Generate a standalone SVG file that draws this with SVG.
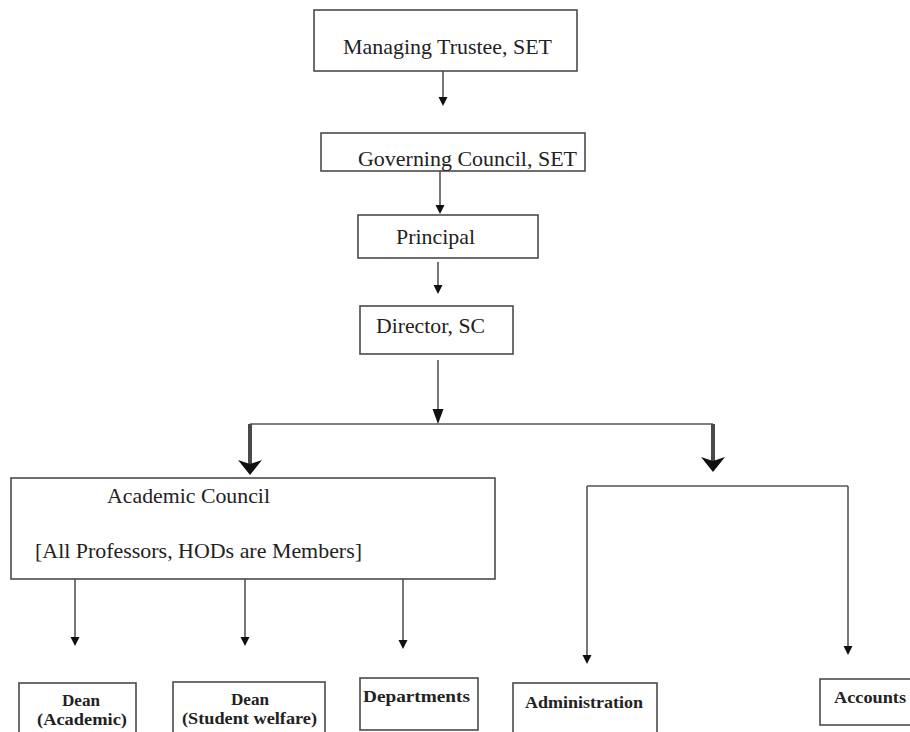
<svg xmlns="http://www.w3.org/2000/svg" width="910" height="732" viewBox="0 0 910 732">
<style>
  .box { fill: #ffffff; stroke: #4a4a4a; stroke-width: 1.6; }
  .t { font-family: "Liberation Serif", "Times New Roman", serif; font-size: 21px; fill: #222; }
  .b { font-family: "Liberation Serif", "Times New Roman", serif; font-size: 17px; font-weight: bold; fill: #222; }
  .ln { fill: none; stroke: #555; stroke-width: 1.6; }
  .thick { fill: none; stroke: #4a4a4a; stroke-width: 4; }
</style>
<defs>
  <marker id="arrS" markerUnits="userSpaceOnUse" markerWidth="10" markerHeight="10" refX="1" refY="4.5" orient="auto">
    <path d="M0,0 L9,4.5 L0,9 z" fill="#111"/>
  </marker>
  <marker id="arrM" markerUnits="userSpaceOnUse" markerWidth="16" markerHeight="12" refX="1" refY="5.5" orient="auto">
    <path d="M0,0 L15,5.5 L0,11 z" fill="#111"/>
  </marker>
  <marker id="arrT" markerUnits="userSpaceOnUse" markerWidth="16" markerHeight="25" refX="4" refY="12" orient="auto">
    <path d="M0,0 L15,12 L0,24 L4,12 z" fill="#111"/>
  </marker>
</defs>
<rect width="910" height="732" fill="#ffffff"/>

<g id="connectors">
  <line class="ln" x1="443" y1="71" x2="443" y2="98" marker-end="url(#arrS)"/>
  <line class="ln" x1="440" y1="170" x2="440" y2="206" marker-end="url(#arrS)"/>
  <line class="ln" x1="438" y1="262" x2="438" y2="286" marker-end="url(#arrS)"/>
  <line class="ln" x1="438" y1="360" x2="438" y2="410" marker-end="url(#arrM)"/>
  <line class="ln" x1="250" y1="424" x2="713" y2="424"/>
  <line class="thick" x1="250" y1="424" x2="250" y2="464" marker-end="url(#arrT)"/>
  <line class="thick" x1="713" y1="424" x2="713" y2="461" marker-end="url(#arrT)"/>
  <line class="ln" x1="75" y1="579" x2="75" y2="638" marker-end="url(#arrS)"/>
  <line class="ln" x1="245" y1="579" x2="245" y2="638" marker-end="url(#arrS)"/>
  <line class="ln" x1="403" y1="579" x2="403" y2="641" marker-end="url(#arrS)"/>
  <line class="ln" x1="587" y1="486" x2="848" y2="486"/>
  <line class="ln" x1="587" y1="486" x2="587" y2="656" marker-end="url(#arrS)"/>
  <line class="ln" x1="848" y1="486" x2="848" y2="647" marker-end="url(#arrS)"/>
</g>

<g id="managing-trustee">
  <rect class="box" x="314" y="10" width="263" height="61"/>
  <text class="t" x="343" y="54" textLength="209" lengthAdjust="spacingAndGlyphs">Managing Trustee, SET</text>
</g>
<g id="governing-council">
  <rect class="box" x="321" y="133" width="264" height="38"/>
  <text class="t" x="358" y="166" textLength="219" lengthAdjust="spacingAndGlyphs">Governing Council, SET</text>
</g>
<g id="principal">
  <rect class="box" x="358" y="215" width="180" height="43"/>
  <text class="t" x="396" y="244" textLength="79" lengthAdjust="spacingAndGlyphs">Principal</text>
</g>
<g id="director">
  <rect class="box" x="360" y="306" width="153" height="48"/>
  <text class="t" x="376" y="333" textLength="109" lengthAdjust="spacingAndGlyphs">Director, SC</text>
</g>
<g id="academic-council">
  <rect class="box" x="11" y="478" width="484" height="101"/>
  <text class="t" x="107" y="503" textLength="163" lengthAdjust="spacingAndGlyphs">Academic Council</text>
  <text class="t" x="35" y="558" textLength="327" lengthAdjust="spacingAndGlyphs">[All Professors, HODs are Members]</text>
</g>
<g id="dean-academic">
  <rect class="box" x="19" y="683" width="117" height="60"/>
  <text class="b" x="62" y="706" textLength="38" lengthAdjust="spacingAndGlyphs">Dean</text>
  <text class="b" x="37" y="725" textLength="90" lengthAdjust="spacingAndGlyphs">(Academic)</text>
</g>
<g id="dean-student-welfare">
  <rect class="box" x="173" y="682" width="152" height="60"/>
  <text class="b" x="231" y="705" textLength="38" lengthAdjust="spacingAndGlyphs">Dean</text>
  <text class="b" x="182" y="724" textLength="135" lengthAdjust="spacingAndGlyphs">(Student welfare)</text>
</g>
<g id="departments">
  <rect class="box" x="360" y="678" width="118" height="52"/>
  <text class="b" x="363" y="702" textLength="107" lengthAdjust="spacingAndGlyphs">Departments</text>
</g>
<g id="administration">
  <rect class="box" x="513" y="683" width="144" height="60"/>
  <text class="b" x="525" y="708" textLength="118" lengthAdjust="spacingAndGlyphs">Administration</text>
</g>
<g id="accounts">
  <rect class="box" x="820" y="679" width="100" height="46"/>
  <text class="b" x="834" y="703" textLength="72" lengthAdjust="spacingAndGlyphs">Accounts</text>
</g>
</svg>
